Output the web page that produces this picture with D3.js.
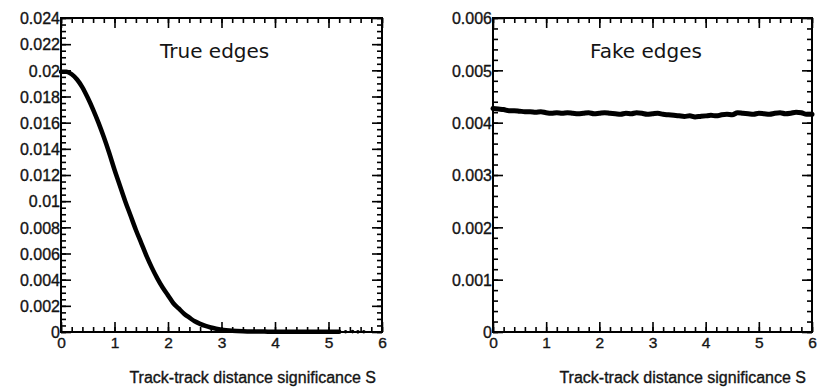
<!DOCTYPE html>
<html>
<head>
<meta charset="utf-8">
<script src="https://cdn.jsdelivr.net/npm/d3@7"></script>
<style>
  html, body { margin: 0; padding: 0; background: #fff; }
  svg { display: block; }
</style>
</head>
<body>
<svg id="chart" width="840" height="387"></svg>
<script>
// Track-track distance significance S (sampled positions)
const sTrue = [0.0, 0.1, 0.2, 0.3, 0.4, 0.5, 0.6, 0.7, 0.8, 0.9,
  1.0, 1.1, 1.2, 1.3, 1.4, 1.5, 1.6, 1.7, 1.8, 1.9,
  2.0, 2.1, 2.2, 2.3, 2.4, 2.5, 2.6, 2.7, 2.8, 2.9,
  3.0, 3.2, 3.4, 3.6, 3.8, 4.0, 4.2, 4.4, 4.6, 4.8, 5.0, 5.2];
// True edges: normalised distribution
const vTrue = [0.0199, 0.0199, 0.0197, 0.0193, 0.0187, 0.0179, 0.0170, 0.0160, 0.0149, 0.0137,
  0.0124, 0.0112, 0.0100, 0.0089, 0.0078, 0.0068, 0.0058, 0.0049, 0.0041, 0.0034,
  0.0028, 0.0022, 0.0018, 0.0014, 0.0011, 0.00082, 0.00062, 0.00046, 0.00034, 0.00025,
  0.00018, 0.00010, 0.00006, 0.00004, 0.00003, 0.00002, 0.00002, 0.00002, 0.00001, 0.00001, 0.00001, 0.00001];
// sparse entries in the far tail
const sTrueTail = [5.32, 5.45, 5.55, 5.66];
const vTrueTail = [0.00002, 0.00003, 0.00001, 0.00002];

const sFake = [0.0, 0.1, 0.2, 0.3, 0.4, 0.5, 0.6, 0.7, 0.8, 0.9,
  1.0, 1.1, 1.2, 1.3, 1.4, 1.5, 1.6, 1.7, 1.8, 1.9,
  2.0, 2.1, 2.2, 2.3, 2.4, 2.5, 2.6, 2.7, 2.8, 2.9,
  3.0, 3.1, 3.2, 3.3, 3.4, 3.5, 3.6, 3.7, 3.8, 3.9,
  4.0, 4.1, 4.2, 4.3, 4.4, 4.5, 4.6, 4.7, 4.8, 4.9,
  5.0, 5.1, 5.2, 5.3, 5.4, 5.5, 5.6, 5.7, 5.8, 5.9, 6.0];
// Fake edges: normalised distribution
const vFake = [0.00427, 0.00426, 0.00425, 0.00423, 0.00423, 0.00422, 0.00421, 0.00421, 0.00420, 0.00421,
  0.00419, 0.00418, 0.00419, 0.00418, 0.00419, 0.00418, 0.00417, 0.00418, 0.00419, 0.00417,
  0.00418, 0.00419, 0.00418, 0.00417, 0.00416, 0.00418, 0.00417, 0.00419, 0.00418, 0.00416,
  0.00417, 0.00418, 0.00416, 0.00415, 0.00414, 0.00413, 0.00412, 0.00413, 0.00411, 0.00412,
  0.00413, 0.00414, 0.00413, 0.00415, 0.00416, 0.00415, 0.00419, 0.00418, 0.00417, 0.00416,
  0.00418, 0.00417, 0.00416, 0.00418, 0.00419, 0.00417, 0.00418, 0.00420, 0.00419, 0.00416, 0.00416];

const xTickValues = [0, 1, 2, 3, 4, 5, 6];
const xTickLabels = ["0", "1", "2", "3", "4", "5", "6"];
const yTrueTickValues = [0, 0.002, 0.004, 0.006, 0.008, 0.010, 0.012, 0.014, 0.016, 0.018, 0.020, 0.022, 0.024];
const yTrueTickLabels = ["0", "0.002", "0.004", "0.006", "0.008", "0.01", "0.012", "0.014", "0.016", "0.018", "0.02", "0.022", "0.024"];
const yFakeTickValues = [0, 0.001, 0.002, 0.003, 0.004, 0.005, 0.006];
const yFakeTickLabels = ["0", "0.001", "0.002", "0.003", "0.004", "0.005", "0.006"];
const xTitle = "Track-track distance significance S";

const svg = d3.select("#chart");
svg.append("rect").attr("width", 840).attr("height", 387).attr("fill", "#fff");

const FONT = '"Liberation Sans", Arial, sans-serif';
const TITLE_FONT = '"DejaVu Sans", Verdana, sans-serif';
const INK = "#141414";

// slightly heavier glyphs for the axis texts
const heavy = sel => sel.attr("fill", INK).attr("stroke", INK).attr("stroke-width", 0.35);

function minorValues(max, step) {
  const out = [];
  const n = Math.round(max / step);
  for (let i = 0; i <= n; i++) out.push(+(i * step).toFixed(6));
  return out;
}

function drawPanel(opt) {
  const g = svg.append("g");
  const x = d3.scaleLinear().domain([0, 6]).range([opt.left, opt.right]);
  const y = d3.scaleLinear().domain([0, opt.yMax]).range([opt.bottom, opt.top]);

  const styleAxis = sel => {
    sel.select(".domain").remove();
    sel.selectAll(".tick line").attr("stroke", "#000").attr("stroke-width", 1.6);
    sel.selectAll(".tick text").attr("font-family", FONT).call(heavy);
  };

  const xMinor = minorValues(6, 0.2);
  const yMinor = minorValues(opt.yMax, opt.yMinorStep);

  // minor ticks on all four sides, pointing inward
  g.append("g").attr("transform", `translate(0,${opt.bottom})`)
    .call(d3.axisBottom(x).tickValues(xMinor).tickSize(-5).tickFormat("")).call(styleAxis);
  g.append("g").attr("transform", `translate(0,${opt.top})`)
    .call(d3.axisTop(x).tickValues(xMinor).tickSize(-5).tickFormat("")).call(styleAxis);
  g.append("g").attr("transform", `translate(${opt.left},0)`)
    .call(d3.axisLeft(y).tickValues(yMinor).tickSize(-5).tickFormat("")).call(styleAxis);
  g.append("g").attr("transform", `translate(${opt.right},0)`)
    .call(d3.axisRight(y).tickValues(yMinor).tickSize(-5).tickFormat("")).call(styleAxis);

  // major ticks with labels
  g.append("g").attr("transform", `translate(0,${opt.bottom})`)
    .call(d3.axisBottom(x).tickValues(xTickValues).tickSize(-10).tickPadding(5)
      .tickFormat((d, i) => xTickLabels[i]))
    .call(styleAxis)
    .selectAll(".tick text").attr("font-size", 15.5).attr("dy", "0.71em");
  g.append("g").attr("transform", `translate(0,${opt.top})`)
    .call(d3.axisTop(x).tickValues(xTickValues).tickSize(-10).tickFormat("")).call(styleAxis);
  g.append("g").attr("transform", `translate(${opt.left},0)`)
    .call(d3.axisLeft(y).tickValues(opt.yTicks).tickSize(-10).tickPadding(1)
      .tickFormat((d, i) => opt.yLabels[i]))
    .call(styleAxis)
    .selectAll(".tick text").attr("font-size", 16).attr("dy", "0.36em");
  g.append("g").attr("transform", `translate(${opt.right},0)`)
    .call(d3.axisRight(y).tickValues(opt.yTicks).tickSize(-10).tickFormat("")).call(styleAxis);

  // frame
  g.append("rect")
    .attr("x", opt.left).attr("y", opt.top)
    .attr("width", opt.right - opt.left).attr("height", opt.bottom - opt.top)
    .attr("fill", "none").attr("stroke", "#000").attr("stroke-width", 2);

  // distribution curve
  const pts = opt.s.map((s, i) => [s, opt.v[i]]);
  g.append("path")
    .datum(pts)
    .attr("fill", "none")
    .attr("stroke", "#000")
    .attr("stroke-width", opt.lineWidth)
    .attr("stroke-linejoin", "round")
    .attr("stroke-linecap", "round")
    .attr("d", d3.line().x(d => x(d[0])).y(d => y(d[1])).curve(d3.curveMonotoneX));

  if (opt.tailS) {
    g.selectAll("circle.tail")
      .data(opt.tailS.map((s, i) => [s, opt.tailV[i]]))
      .join("circle")
      .attr("class", "tail")
      .attr("cx", d => x(d[0])).attr("cy", d => y(d[1]))
      .attr("r", 1.8).attr("fill", "#000");
  }

  // panel title
  g.append("text")
    .attr("x", opt.titleX).attr("y", 58)
    .attr("font-family", TITLE_FONT).attr("font-size", 20).attr("fill", INK)
    .text(opt.title);

  // x-axis title
  g.append("text")
    .attr("x", opt.right - 6).attr("y", 383)
    .attr("text-anchor", "end")
    .attr("font-family", FONT).attr("font-size", 16)
    .call(heavy)
    .text(xTitle);
}

drawPanel({
  left: 61, right: 382, top: 18, bottom: 332,
  yMax: 0.024, yMinorStep: 0.0005,
  yTicks: yTrueTickValues, yLabels: yTrueTickLabels,
  s: sTrue, v: vTrue, tailS: sTrueTail, tailV: vTrueTail, lineWidth: 4.5,
  title: "True edges", titleX: 160
});

drawPanel({
  left: 493, right: 812, top: 18, bottom: 332,
  yMax: 0.006, yMinorStep: 0.0002,
  yTicks: yFakeTickValues, yLabels: yFakeTickLabels,
  s: sFake, v: vFake, lineWidth: 5,
  title: "Fake edges", titleX: 590
});
</script>
</body>
</html>
